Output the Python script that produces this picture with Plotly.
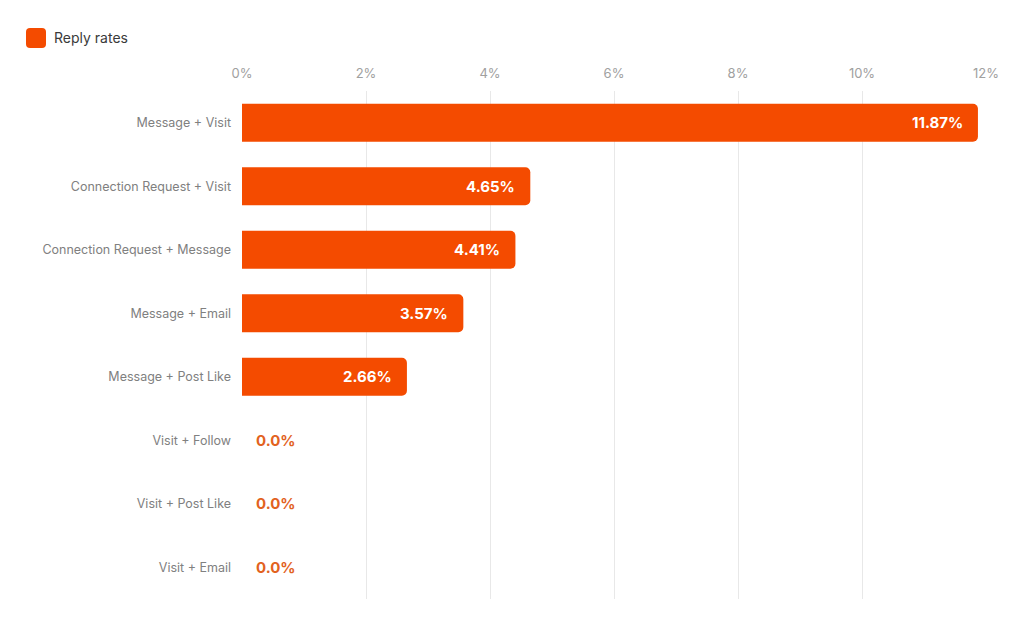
import plotly.graph_objects as go

categories = [
    "Message + Visit",
    "Connection Request + Visit",
    "Connection Request + Message",
    "Message + Email",
    "Message + Post Like",
    "Visit + Follow",
    "Visit + Post Like",
    "Visit + Email",
]
reply_rates = [11.87, 4.65, 4.41, 3.57, 2.66, 0.0, 0.0, 0.0]
label_texts = ["11.87%", "4.65%", "4.41%", "3.57%", "2.66%", "0.0%", "0.0%", "0.0%"]
tick_vals = [0, 2, 4, 6, 8, 10, 12]
tick_text = ["0%", "2%", "4%", "6%", "8%", "10%", "12%"]
series_name = "Reply rates"

BAR = "#F44B00"
ZERO_TXT = "#E2621E"
FONT = "Inter, Roboto, sans-serif"

W, H = 1024, 626
ML, MR, MT, MB = 242, 38, 91, 27
PW = W - ML - MR
PH = H - MT - MB


def px_x(px):
    return (px - ML) / PW


def px_y(py):
    return 1 + (MT - py) / PH


fig = go.Figure()
fig.add_trace(go.Bar(
    y=categories,
    x=reply_rates,
    orientation="h",
    marker=dict(color=BAR, line=dict(width=0)),
    width=0.6,
    name=series_name,
    showlegend=False,
    hoverinfo="skip",
))

annotations = []
for cat, val, txt in zip(categories, reply_rates, label_texts):
    if val > 0:
        annotations.append(dict(
            x=val, y=cat, xref="x", yref="y", text="<b>%s</b>" % txt,
            showarrow=False, xanchor="right", xshift=-13,
            font=dict(family=FONT, size=15, color="white"),
        ))
    else:
        annotations.append(dict(
            x=val, y=cat, xref="x", yref="y", text="<b>%s</b>" % txt,
            showarrow=False, xanchor="left", xshift=12,
            font=dict(family=FONT, size=15, color=ZERO_TXT),
        ))

# legend entry text
annotations.append(dict(
    x=px_x(52), y=px_y(38), xref="paper", yref="paper", text=series_name,
    showarrow=False, xanchor="left", yanchor="middle",
    font=dict(family=FONT, size=14, color="#3a3a3a"),
))

# rounded legend swatch path (pixel -> paper)
x0, x1, y0, y1, r = 26, 46, 28, 48, 4
pts = [
    ("M", x0 + r, y0), ("L", x1 - r, y0), ("Q", x1, y0, x1, y0 + r),
    ("L", x1, y1 - r), ("Q", x1, y1, x1 - r, y1), ("L", x0 + r, y1),
    ("Q", x0, y1, x0, y1 - r), ("L", x0, y0 + r), ("Q", x0, y0, x0 + r, y0),
]
path = ""
for p in pts:
    cmd = p[0]
    coords = p[1:]
    segs = []
    for i in range(0, len(coords), 2):
        segs.append("%.6f,%.6f" % (px_x(coords[i]), px_y(coords[i + 1])))
    path += cmd + " " + " ".join(segs) + " "
path += "Z"

fig.update_layout(
    width=W, height=H,
    margin=dict(l=ML, r=MR, t=MT, b=MB),
    paper_bgcolor="white", plot_bgcolor="white",
    barcornerradius=5,
    font=dict(family=FONT, size=13, color="#7a7a7a"),
    xaxis=dict(
        range=[0, 12], side="top", tickvals=tick_vals, ticktext=tick_text,
        showgrid=True, gridcolor="#e8e8e8", gridwidth=1, zeroline=False,
        showline=False, ticks="", ticklabelstandoff=9,
        tickfont=dict(size=13, color="#a0a0a0"),
        fixedrange=True,
    ),
    yaxis=dict(
        categoryorder="array", categoryarray=categories, autorange="reversed",
        showgrid=False, zeroline=False, showline=False, ticks="",
        ticklabelstandoff=10,
        tickfont=dict(size=12.5, color="#808080"), fixedrange=True,
    ),
    annotations=annotations,
    shapes=[dict(type="path", xref="paper", yref="paper", path=path,
                 fillcolor=BAR, line=dict(width=0), layer="above")],
)

fig.write_html("out.html")
